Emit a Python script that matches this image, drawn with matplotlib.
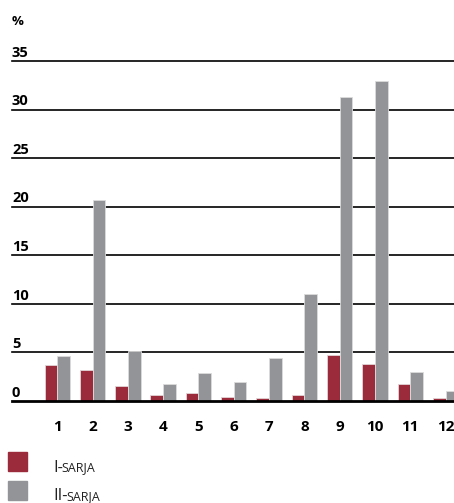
import matplotlib
matplotlib.use("Agg")
import matplotlib.pyplot as plt
from matplotlib.patches import Rectangle
import numpy as np

# data
groups = ["1", "2", "3", "4", "5", "6", "7", "8", "9", "10", "11", "12"]
sarja_1 = [3.7, 3.2, 1.5, 0.6, 0.8, 0.4, 0.3, 0.6, 4.7, 3.8, 1.8, 0.3]
sarja_2 = [4.6, 20.7, 5.2, 1.8, 2.9, 2.0, 4.4, 11.0, 31.3, 33.0, 3.0, 1.0]
y_ticks = [0, 5, 10, 15, 20, 25, 30, 35]
series_names = ["I-", "II-"]

red = "#9b2a3b"
grey = "#939497"
font = "Open Sans"

W, H = 454, 503
fig = plt.figure(figsize=(W / 100, H / 100), dpi=100)
ax = fig.add_axes([12 / W, 1 - 401 / H, 1 - 12 / W, (401 - 56.3) / H])

x = np.arange(len(groups))
bw = 0.36
ax.bar(x - bw / 2, sarja_1, width=bw, color=red, edgecolor="#e2d5d7",
       linewidth=0.6, zorder=3)
ax.bar(x + bw / 2, sarja_2, width=bw, color=grey, edgecolor="#dcdcdc",
       linewidth=0.6, zorder=3)

ax.set_xlim(-1.283, 11.24)
ax.set_ylim(0, 35.5)
ax.axis("off")

for v in y_ticks:
    ax.axhline(v, color="black", lw=2.0 if v == 0 else 1.2, zorder=4 if v == 0 else 2,
               clip_on=False)
    ax.text(0, v + 0.45, str(v), transform=ax.get_yaxis_transform(),
            ha="left", va="baseline", fontsize=10.5, fontweight="bold",
            family=font)

for xi, lab in zip(x, groups):
    ax.text(xi, -3.1, lab, ha="center", va="baseline", fontsize=11,
            fontweight="bold", family=font, clip_on=False)

fig.text(12 / W, 1 - 25 / H, "%", ha="left", va="baseline", fontsize=9.5,
         family=font, fontweight="bold")

# legend
fig.canvas.draw()
renderer = fig.canvas.get_renderer()
for i, (name, col) in enumerate(zip(series_names, [red, grey])):
    top = 451.7 + i * 29
    fig.add_artist(Rectangle((8 / W, 1 - (top + 19.3) / H), 19.3 / W, 19.3 / H,
                             transform=fig.transFigure, color=col))
    base = 1 - (top + 19.8) / H
    t = fig.text(53 / W, base, name, ha="left", va="baseline", fontsize=12,
                 family=font, color="#222222")
    bb = t.get_window_extent(renderer)
    fig.text((bb.x1 - 1) / W, base, "SARJA", ha="left", va="baseline", fontsize=9,
             family=font, color="#222222")

fig.savefig("out.png", dpi=100)
